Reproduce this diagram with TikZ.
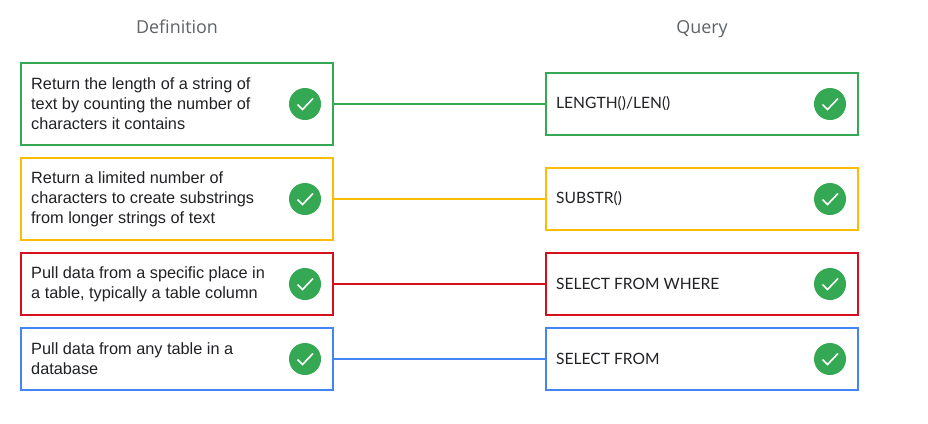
\documentclass[tikz,border=0pt]{standalone}
\usepackage{fontspec}
\setmainfont{Liberation Sans}
\newfontfamily\headfont{Open Sans}
\newfontfamily\queryfont{Lato}
\definecolor{cgreen}{HTML}{34A853}
\definecolor{cyellow}{HTML}{FBBC04}
\definecolor{cred}{HTML}{D50F1C}
\definecolor{cblue}{HTML}{4285F4}
\definecolor{ctitle}{HTML}{5F6368}
\definecolor{ctext}{HTML}{202124}
\tikzset{x=1pt,y=-1pt,
 card/.style={draw=#1,line width=2pt,fill=white,rectangle,minimum width=312pt,anchor=north west,inner sep=0pt,outer sep=0pt},
 lbl/.style={anchor=west,align=left,font=\fontsize{16.3pt}{20pt}\selectfont,text=ctext,inner sep=0pt},
 qlbl/.style={anchor=west,align=left,font=\queryfont\fontsize{15.6pt}{20pt}\selectfont,text=ctext,inner sep=0pt},
 tick/.style={circle,fill=cgreen,minimum size=32pt,inner sep=0pt},
 wire/.style={draw=#1,line width=2pt},
 head/.style={anchor=base,font=\headfont\fontsize{17.9pt}{20pt}\selectfont,text=ctitle,inner sep=0pt}}
\newcommand{\tickmark}[1]{\draw[white,line width=1.6pt] ([shift={(-7.5pt,-0.5pt)}]#1.center) -- ([shift={(-2.5pt,-5.5pt)}]#1.center) -- ([shift={(8pt,5.5pt)}]#1.center);}
\begin{document}
\begin{tikzpicture}
\useasboundingbox[fill=white] (0,0) rectangle (928,423);
\node[head] (hd) at (177,33) {Definition};
\node[head] (hq) at (702,33) {Query};
\node[card=cgreen,minimum height=82pt] (a1) at (21,63) {};
\node[card=cyellow,minimum height=82pt] (a2) at (21,158) {};
\node[card=cred,minimum height=62pt] (a3) at (21,253) {};
\node[card=cblue,minimum height=62pt] (a4) at (21,328) {};
\node[card=cgreen,minimum height=62pt] (b1) at (546,73) {};
\node[card=cyellow,minimum height=62pt] (b2) at (546,168) {};
\node[card=cred,minimum height=62pt] (b3) at (546,253) {};
\node[card=cblue,minimum height=62pt] (b4) at (546,328) {};
\draw[wire=cgreen] (a1) -- (b1);
\draw[wire=cyellow] (a2) -- (b2);
\draw[wire=cred] (a3) -- (b3);
\draw[wire=cblue] (a4) -- (b4);
\node[lbl] (ta1) at (31,104) {Return the length of a string of\\text by counting the number of\\characters it contains};
\node[lbl] (ta2) at (31,199) {Return a limited number of\\characters to create substrings\\from longer strings of text};
\node[lbl] (ta3) at (31,284) {Pull data from a specific place in\\a table, typically a table column};
\node[lbl] (ta4) at (31,359) {Pull data from any table in a\\database};
\node[qlbl] (tb1) at (556,104) {LENGTH()/LEN()};
\node[qlbl] (tb2) at (556,199) {SUBSTR()};
\node[qlbl] (tb3) at (556,284) {SELECT FROM WHERE};
\node[qlbl] (tb4) at (556,359) {SELECT FROM};
\foreach \n/\x/\y in {c1/305/104,c2/305/199,c3/305/284,c4/305/359,d1/830/104,d2/830/199,d3/830/284,d4/830/359}{
 \node[tick] (\n) at (\x,\y) {};
 \tickmark{\n}
}
\end{tikzpicture}
\end{document}
